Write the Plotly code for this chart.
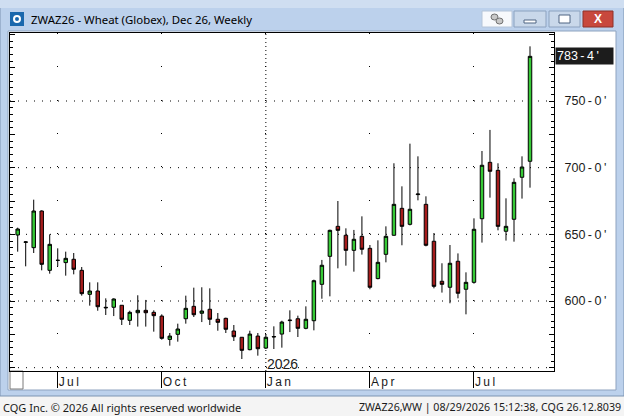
import pandas as pd
import plotly.graph_objects as go

# weekly bars for ZWAZ26, each dated by the Monday of its week
first_week = "2025-06-02"
opens = [649.5, 644.0, 640.0, 667.5, 623.0, 630.5, 628.8, 631.3, 623.0, 605.0,
         607.5, 594.8, 595.3, 596.8, 585.5, 591.2, 593.0, 591.5, 588.7, 571.2,
         575.0, 586.7, 596.0, 590.8, 593.8, 586.3, 587.0, 577.5, 572.8, 563.5,
         573.7, 564.7, 573.0, 575.2, 585.3, 586.7, 579.5, 585.2, 612.5, 633.5,
         656.0, 649.3, 638.0, 648.5, 639.5, 616.8, 635.0, 649.3, 669.5, 657.5,
         679.8, 672.5, 644.8, 614.8, 610.3, 629.8, 608.8, 614.0, 661.7, 704.0,
         698.0, 652.3, 661.3, 692.8, 704.8]
highs = [655.0, 645.0, 676.0, 668.0, 650.0, 639.5, 637.0, 636.0, 625.5, 614.0,
         614.0, 602.0, 602.0, 597.0, 592.7, 604.3, 600.8, 593.0, 590.0, 576.0,
         583.0, 604.0, 610.0, 610.3, 609.5, 591.0, 587.5, 582.0, 573.0, 577.7,
         576.0, 575.0, 581.0, 585.2, 593.0, 589.0, 596.0, 616.0, 630.8, 653.5,
         675.0, 654.5, 653.3, 663.5, 642.0, 645.5, 656.0, 703.3, 686.0, 718.0,
         708.5, 678.5, 651.0, 628.3, 642.0, 635.7, 621.5, 662.0, 712.5, 728.3,
         703.3, 677.0, 692.0, 708.5, 791.0]
lows = [637.0, 626.0, 636.0, 623.0, 620.5, 626.0, 619.0, 620.0, 604.0, 596.5,
        592.7, 589.5, 588.7, 582.0, 582.0, 580.8, 580.8, 577.0, 571.0, 566.5,
        569.5, 583.0, 588.0, 584.2, 582.0, 577.7, 576.0, 570.0, 556.5, 563.0,
        559.0, 564.0, 564.0, 565.0, 576.7, 573.0, 578.8, 578.0, 601.7, 603.5,
        624.5, 626.5, 622.0, 634.8, 608.8, 616.3, 629.0, 649.0, 641.8, 656.7,
        675.5, 641.0, 609.5, 606.3, 598.3, 602.0, 590.0, 613.0, 643.8, 677.5,
        653.0, 645.3, 644.5, 676.8, 685.0]
closes = [654.0, 644.3, 667.5, 627.5, 642.5, 630.5, 632.0, 623.8, 605.5, 607.5,
          595.7, 595.2, 601.5, 586.3, 591.5, 593.0, 591.2, 589.0, 572.0, 573.7,
          579.0, 594.5, 589.7, 592.5, 586.3, 584.0, 578.8, 573.2, 563.0, 575.2,
          564.2, 572.8, 573.3, 584.2, 585.6, 579.5, 586.3, 615.2, 626.8, 653.0,
          653.0, 638.0, 646.3, 638.8, 610.3, 629.0, 648.5, 672.5, 656.0, 668.8,
          680.2, 641.8, 611.0, 612.5, 628.3, 605.8, 614.0, 653.8, 701.8, 697.3,
          656.0, 656.0, 689.0, 700.5, 783.5]
dates = pd.date_range(first_week, periods=len(closes), freq="7D")

price_ticks = list(range(550, 801, 25))
labelled_prices = [600, 650, 700, 750]
grid_prices = [550, 600, 650, 700, 750]
quarter_months = [1, 4, 7, 10]

W, H = 624, 416
L, R, T, B = 10, 70, 33, 45
PW, PH = W - L - R, H - T - B


def px(x):
    return (x - L) / PW


def py(y):
    return (H - B - y) / PH


def price_text(v):
    whole = int(v)
    eighths = int(round((v - whole) * 8))
    return f"{whole}\u2009-\u2009{eighths}\u2009'"


# first bar of each quarter month
tick_dates = []
seen = set()
for d in dates:
    key = (d.year, d.month)
    if d.month in quarter_months and key not in seen:
        seen.add(key)
        tick_dates.append(d)
tick_text = ["\u2009".join(d.strftime("%b")) for d in tick_dates]
year_start = [d for d in tick_dates if d.month == 1][0]

fig = go.Figure()
fig.add_trace(go.Candlestick(
    x=dates, open=opens, high=highs, low=lows, close=closes,
    increasing=dict(fillcolor="#36c936", line=dict(color="#000000", width=1)),
    decreasing=dict(fillcolor="#a51c1c", line=dict(color="#000000", width=1)),
    whiskerwidth=0,
    hoverinfo="x+y",
    showlegend=False))

shapes = []
# window frame and title bar
shapes.append(dict(type="rect", xref="paper", yref="paper", layer="below",
                   x0=px(0), x1=px(624), y0=py(0), y1=py(396),
                   fillcolor="#bcd1ec", line=dict(color="#7d94b2", width=1)))
shapes.append(dict(type="rect", xref="paper", yref="paper", layer="below",
                   x0=px(0), x1=px(624), y0=py(0), y1=py(8),
                   fillcolor="#cfdef1", line=dict(width=0)))
shapes.append(dict(type="rect", xref="paper", yref="paper", layer="below",
                   x0=px(8), x1=px(616), y0=py(31), y1=py(390),
                   fillcolor="#ffffff", line=dict(color="#8ea3bf", width=1)))
# app icon
shapes.append(dict(type="rect", xref="paper", yref="paper", layer="below",
                   x0=px(10), x1=px(24), y0=py(12), y1=py(26),
                   fillcolor="#1a68ad", line=dict(width=0)))
shapes.append(dict(type="circle", xref="paper", yref="paper", layer="below",
                   x0=px(14), x1=px(20), y0=py(16), y1=py(22),
                   fillcolor="rgba(0,0,0,0)", line=dict(color="#ffffff", width=2)))
# title bar buttons
shapes.append(dict(type="rect", xref="paper", yref="paper", layer="below",
                   x0=px(482), x1=px(512), y0=py(11), y1=py(27),
                   fillcolor="#f7f9fc", line=dict(color="#b4c4d8", width=1)))
shapes.append(dict(type="circle", xref="paper", yref="paper", layer="below",
                   x0=px(491), x1=px(498), y0=py(14), y1=py(20),
                   fillcolor="#c8c8c8", line=dict(color="#707070", width=1)))
shapes.append(dict(type="circle", xref="paper", yref="paper", layer="below",
                   x0=px(496), x1=px(503), y0=py(18), y1=py(24),
                   fillcolor="#c8c8c8", line=dict(color="#707070", width=1)))
for bx0, bx1 in [(514, 546), (549, 580)]:
    shapes.append(dict(type="rect", xref="paper", yref="paper", layer="below",
                       x0=px(bx0), x1=px(bx1), y0=py(11), y1=py(27),
                       fillcolor="#c9d8ea", line=dict(color="#8ca2bf", width=1)))
shapes.append(dict(type="rect", xref="paper", yref="paper", layer="below",
                   x0=px(524), x1=px(536), y0=py(20), y1=py(23),
                   fillcolor="#ffffff", line=dict(color="#4f6482", width=1)))
shapes.append(dict(type="rect", xref="paper", yref="paper", layer="below",
                   x0=px(559), x1=px(570), y0=py(15), y1=py(23),
                   fillcolor="#ffffff", line=dict(color="#4f6482", width=1)))
shapes.append(dict(type="rect", xref="paper", yref="paper", layer="below",
                   x0=px(583), x1=px(613), y0=py(11), y1=py(27),
                   fillcolor="#c8483d", line=dict(color="#8e3129", width=1)))
# small scroll box at the lower left of the time axis
shapes.append(dict(type="rect", xref="paper", yref="paper", layer="below",
                   x0=px(10), x1=px(23), y0=py(371), y1=py(389),
                   fillcolor="#ffffff", line=dict(color="#7a7a7a", width=1)))
# dotted horizontal price grid
for g in grid_prices:
    shapes.append(dict(type="line", xref="paper", yref="y", layer="below",
                       x0=0, x1=1, y0=g, y1=g,
                       line=dict(color="#000000", width=1, dash="1px,7px")))
# densely dotted year boundary
shapes.append(dict(type="line", xref="x", yref="paper", layer="below",
                   x0=year_start, x1=year_start, y0=0, y1=1,
                   line=dict(color="#000000", width=1, dash="1px,3px")))

annotations = [
    dict(text="ZWAZ26 - Wheat (Globex), Dec 26, Weekly", xref="paper", yref="paper",
         x=px(29), y=py(19), xanchor="left", yanchor="middle", showarrow=False,
         font=dict(family="Noto Sans", size=11.4, color="#000000")),
    dict(text="<b>X</b>", xref="paper", yref="paper", x=px(598), y=py(19),
         xanchor="center", yanchor="middle", showarrow=False,
         font=dict(family="Liberation Sans", size=12, color="#ffffff")),
    dict(text=str(year_start.year), xref="x", yref="paper", x=year_start, y=0,
         xanchor="left", yanchor="bottom", xshift=-1, yshift=-3, showarrow=False,
         font=dict(family="Liberation Sans", size=14, color="#222222")),
    dict(text=price_text(closes[-1]), xref="paper", yref="y", x=1, y=closes[-1],
         xanchor="left", yanchor="middle", xshift=1, showarrow=False,
         bgcolor="#1c1c1c", width=55, align="left", borderpad=1,
         font=dict(family="Liberation Sans", size=12.5, color="#ffffff")),
    dict(text="CQG Inc. \u00a9 2026 All rights reserved worldwide", xref="paper", yref="paper",
         x=px(1), y=py(407), xanchor="left", yanchor="middle", showarrow=False,
         font=dict(family="Noto Sans", size=11, color="#1a1a1a")),
    dict(text="ZWAZ26,WW | 08/29/2026 15:12:38, CQG 26.12.8039", xref="paper", yref="paper",
         x=px(623), y=py(407), xanchor="right", yanchor="middle", showarrow=False,
         font=dict(family="Noto Sans", size=10.7, color="#1a1a1a")),
]

fig.update_layout(
    width=W, height=H,
    margin=dict(l=L, r=R, t=T, b=B, pad=0),
    paper_bgcolor="#f4f4f4",
    plot_bgcolor="#ffffff",
    boxgap=0.38,
    shapes=shapes,
    annotations=annotations,
    hovermode="x",
    xaxis=dict(
        type="date",
        range=["2025-05-26 06:30", "2026-09-13 23:30"],
        rangeslider=dict(visible=False),
        tickmode="array", tickvals=tick_dates, ticktext=tick_text,
        ticks="outside", ticklen=16, tickcolor="#000000", tickwidth=1,
        ticklabelposition="outside right", ticklabelstandoff=0,
        tickfont=dict(family="Liberation Sans", size=12, color="#1a1a1a"),
        showgrid=True, gridcolor="#000000", gridwidth=1, griddash="1px,32.33px",
        showline=True, linecolor="#000000", linewidth=1, mirror=True,
        zeroline=False, fixedrange=True,
    ),
    yaxis=dict(
        side="right",
        range=[547.5, 801],
        tickmode="array", tickvals=price_ticks,
        ticktext=[price_text(v) if v in labelled_prices else "" for v in price_ticks],
        ticks="inside", ticklen=5, tickcolor="#000000", tickwidth=1,
        ticklabelstandoff=7,
        minor=dict(tickmode="linear", tick0=550, dtick=5, ticks="inside",
                   ticklen=3, tickcolor="#000000", showgrid=False),
        tickfont=dict(family="Liberation Sans", size=12.5, color="#1a1a1a"),
        showgrid=False,
        showline=True, linecolor="#000000", linewidth=1, mirror="ticks",
        zeroline=False, fixedrange=True,
    ),
)

# the page's default body margin would shift the figure off the window
fig.write_html("out.html", config=dict(displayModeBar=False),
               post_script="document.body.style.margin='0';")
